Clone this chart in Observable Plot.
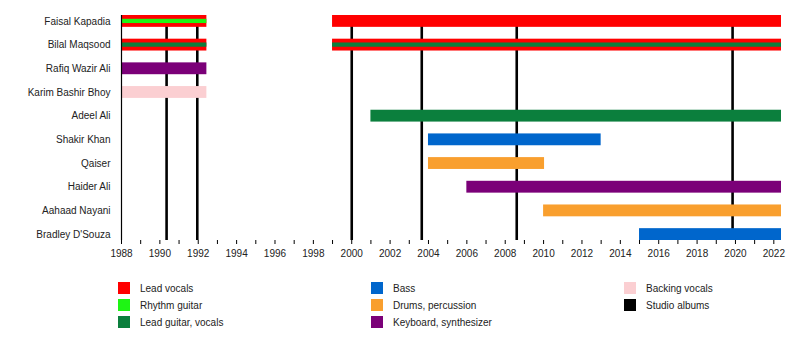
<!DOCTYPE html>
<html>
<head>
<meta charset="utf-8">
<script src="https://cdn.jsdelivr.net/npm/d3@7"></script>
<script src="https://cdn.jsdelivr.net/npm/@observablehq/plot@0.6"></script>
<style>
  html, body { margin: 0; padding: 0; background: #fff; }
  #wrap { position: relative; width: 800px; height: 360px; font-family: "Liberation Sans", Arial, sans-serif; }
  #legend { position: absolute; left: 0; top: 0; width: 800px; height: 360px; pointer-events: none; }
  .sw { position: absolute; width: 12px; height: 12px; }
  .lt { position: absolute; font-size: 10px; line-height: 13px; color: #222; white-space: nowrap; }
</style>
</head>
<body>
<div id="wrap"><div id="chart"></div><div id="legend"></div></div>
<script>
// Members (top to bottom)
const members = ["Faisal Kapadia", "Bilal Maqsood", "Rafiq Wazir Ali", "Karim Bashir Bhoy", "Adeel Ali",
  "Shakir Khan", "Qaiser", "Haider Ali", "Aahaad Nayani", "Bradley D'Souza"];

// Roles and colours
const roles = ["Lead vocals", "Rhythm guitar", "Lead guitar, vocals", "Bass", "Drums, percussion",
  "Keyboard, synthesizer", "Backing vocals", "Studio albums"];
const roleColors = ["#ff0000", "#1ef514", "#0b7f3d", "#0066cc", "#f99f2e", "#7b0078", "#fbcfd2", "#000000"];

// Main bars
const barMember = ["Faisal Kapadia", "Faisal Kapadia", "Bilal Maqsood", "Bilal Maqsood", "Rafiq Wazir Ali",
  "Karim Bashir Bhoy", "Adeel Ali", "Shakir Khan", "Qaiser", "Haider Ali", "Aahaad Nayani", "Bradley D'Souza"];
const barRole = ["Lead vocals", "Lead vocals", "Lead vocals", "Lead vocals", "Keyboard, synthesizer",
  "Backing vocals", "Lead guitar, vocals", "Bass", "Drums, percussion", "Keyboard, synthesizer",
  "Drums, percussion", "Bass"];
const barStart = [1988, 1999.0, 1988, 1999.0, 1988, 1988, 2001.0, 2004.0, 2004.0, 2006.0, 2010.0, 2015.0];
const barEnd = [1992.45, 2022.4, 1992.45, 2022.4, 1992.45, 1992.45, 2022.4, 2013.0, 2010.05, 2022.4, 2022.4, 2022.4];

// Secondary (thin) role stripes
const stripeMember = ["Faisal Kapadia", "Bilal Maqsood", "Bilal Maqsood"];
const stripeRole = ["Rhythm guitar", "Lead guitar, vocals", "Lead guitar, vocals"];
const stripeStart = [1988, 1988, 1999.0];
const stripeEnd = [1992.45, 1992.45, 2022.4];

// Studio album release dates
const albumYears = [1990.35, 1991.95, 2000.0, 2003.65, 2008.6, 2019.85];

// Axis
const xStart = 1988, xEnd = 2022.4;
const yearTicks = d3.range(1988, 2023);

const bars = barMember.map((m, i) => ({member: m, role: barRole[i], start: barStart[i], end: barEnd[i]}));
const stripes = stripeMember.map((m, i) => ({member: m, role: stripeRole[i], start: stripeStart[i], end: stripeEnd[i]}));

const chart = Plot.plot({
  width: 800,
  height: 266,
  marginLeft: 121,
  marginRight: 19,
  marginTop: 15,
  marginBottom: 26,
  style: {fontFamily: "'Liberation Sans', Arial, sans-serif", fontSize: "10px", color: "#222", background: "#fff"},
  x: {domain: [xStart, xEnd], label: null, line: true},
  y: {domain: members, paddingInner: 0.5, paddingOuter: 0, round: false, label: null},
  color: {domain: roles, range: roleColors},
  marks: [
    Plot.ruleX(albumYears, {x: d => d, stroke: "#000", strokeWidth: 2.6}),
    Plot.barX(bars, {x1: "start", x2: "end", y: "member", fill: d => d.role}),
    Plot.barX(stripes, {x1: "start", x2: "end", y: "member", fill: d => d.role, insetTop: 3.8, insetBottom: 3.8}),
    Plot.ruleX([xStart], {stroke: "#000", strokeWidth: 1.2}),
    Plot.axisX({ticks: yearTicks, tickFormat: d => d % 2 === 0 ? String(d) : "", tickSize: 4, tickPadding: 5, stroke: "#000"}),
    Plot.axisY({tickSize: 0, tickPadding: 11, fill: "#222"})
  ]
});
document.getElementById("chart").appendChild(chart);

// Legend (column-major, three columns)
const legendCols = [118, 371, 624];
const legendRows = [282, 299, 316];
const legend = document.getElementById("legend");
roles.forEach((r, i) => {
  const col = Math.floor(i / 3), row = i % 3;
  const sw = document.createElement("div");
  sw.className = "sw";
  sw.style.left = legendCols[col] + "px";
  sw.style.top = legendRows[row] + "px";
  sw.style.background = roleColors[i];
  legend.appendChild(sw);
  const t = document.createElement("div");
  t.className = "lt";
  t.style.left = (legendCols[col] + 22) + "px";
  t.style.top = legendRows[row] + "px";
  t.textContent = r;
  legend.appendChild(t);
});
</script>
</body>
</html>
